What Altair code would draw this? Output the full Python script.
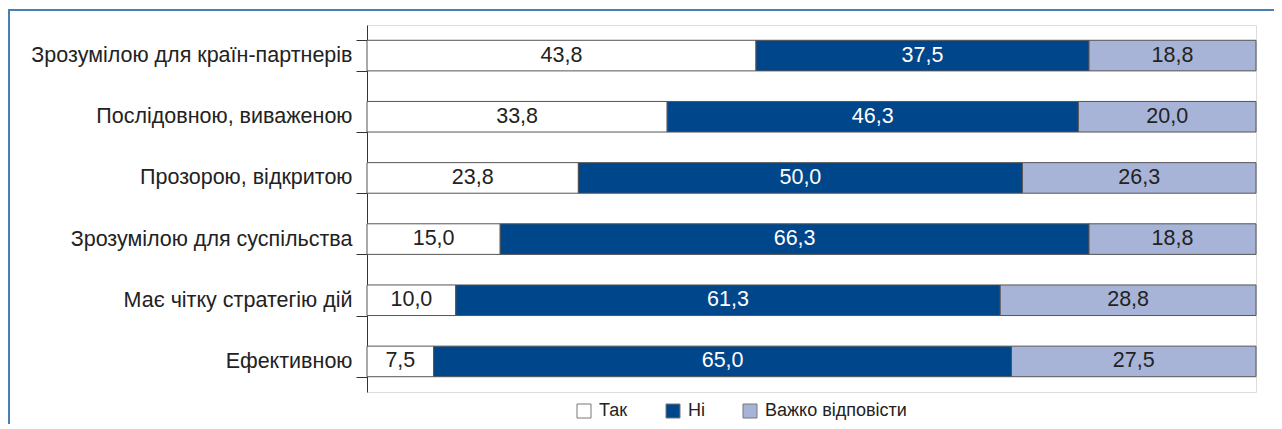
import altair as alt
import pandas as pd

categories = [
    "Зрозумілою для країн-партнерів",
    "Послідовною, виваженою",
    "Прозорою, відкритою",
    "Зрозумілою для суспільства",
    "Має чітку стратегію дій",
    "Ефективною",
]
series = ["Так", "Ні", "Важко відповісти"]
tak = [43.8, 33.8, 23.8, 15.0, 10.0, 7.5]
ni = [37.5, 46.3, 50.0, 66.3, 61.3, 65.0]
vazhko = [18.8, 20.0, 26.3, 18.8, 28.8, 27.5]
colors = ["#ffffff", "#00468b", "#a7b4d7"]

rows = []
for i, c in enumerate(categories):
    for j, (s, vals) in enumerate(zip(series, [tak, ni, vazhko])):
        v = vals[i]
        rows.append({"category": c, "series": s, "order": j, "value": v,
                     "label": f"{v:.1f}".replace(".", ",")})
df = pd.DataFrame(rows)

FONT = "Liberation Sans"
W, H = 889, 367

base = alt.Chart(df).transform_stack(
    stack="value", groupby=["category"], as_=["x0", "x1"],
    sort=[alt.SortField("order")], offset="normalize"
).transform_calculate(mid="(datum.x0 + datum.x1) / 2")

yenc = alt.Y("category:N", sort=categories, title=None,
             scale=alt.Scale(paddingInner=0.5, paddingOuter=0.25),
             axis=alt.Axis(tickBand="extent", tickSize=11, tickColor="#333",
                           domainColor="#333", labelPadding=4,
                           labelFont=FONT, labelFontSize=21.5, labelColor="#222",
                           labelLimit=400))
xscale = alt.Scale(domain=[0, 1], nice=False, zero=True)

bars = base.mark_bar(stroke="#555", strokeWidth=1).encode(
    x=alt.X("x0:Q", scale=xscale, axis=None),
    x2="x1:Q",
    y=yenc,
    color=alt.Color("series:N", sort=series,
                    scale=alt.Scale(domain=series, range=colors),
                    legend=alt.Legend(title=None, orient="none", legendX=208, legendY=H + 10,
                                      direction="horizontal", symbolType="square",
                                      symbolSize=196, symbolStrokeColor="#777",
                                      symbolStrokeWidth=1, labelFont=FONT,
                                      labelFontSize=18, labelColor="#222",
                                      labelOffset=6, columnPadding=36)),
)

text = base.mark_text(font=FONT, fontSize=21.5, baseline="middle", align="center").encode(
    x=alt.X("mid:Q", scale=xscale, axis=None),
    y=alt.Y("category:N", sort=categories),
    text="label:N",
    color=alt.condition(alt.datum.series == "Ні", alt.value("#ffffff"), alt.value("#222222")),
)

frame_data = alt.Data(values=[{"a": 1}])
frame_top = alt.Chart(frame_data).mark_rule(stroke="#4a7fb5", strokeWidth=2).encode(
    x=alt.value(-358), x2=alt.value(W + 18), y=alt.value(-15))
frame_left = alt.Chart(frame_data).mark_rule(stroke="#4a7fb5", strokeWidth=2).encode(
    x=alt.value(-358), y=alt.value(-16), y2=alt.value(H + 40))

chart = alt.layer(frame_top, frame_left, bars, text).properties(
    width=W, height=H,
    autosize=alt.AutoSizeParams(type="none"),
    padding={"left": 359, "top": 17, "right": 18, "bottom": 32},
).configure_view(stroke=None).configure(background="white")

chart.save("out.html", embed_options={"renderer": "svg", "actions": False})
